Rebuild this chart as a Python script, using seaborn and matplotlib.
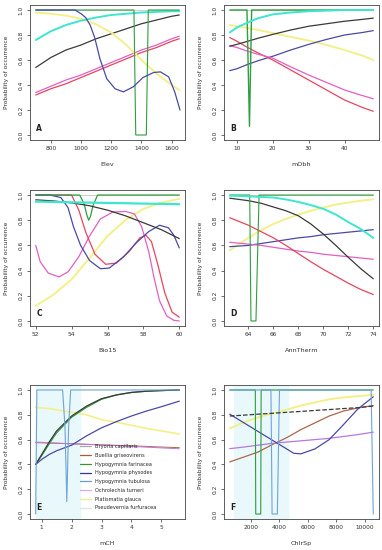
import matplotlib
matplotlib.use("Agg")
import matplotlib.pyplot as plt
import seaborn as sns
import numpy as np

sns.set_style("ticks")
plt.rcParams['font.family'] = ['DejaVu Sans']

# ---- colours seen in the panels
CYAN = '#3ee6cf'
DARK = '#3a3a3a'
YELLOW = '#f3f08a'
NAVY = '#4a4aa6'
RED = '#e8455e'
PINK = '#e35fc4'
GREEN = '#2f9e3e'
GREY = '#cfcfcf'
LBLUE = '#6fa3d8'
PURPLE = '#b978e0'
BROWN = '#b0664a'

# ---- Panel A : Elev
a_x = [700, 800, 900, 1000, 1100, 1200, 1300, 1400, 1500, 1600, 1650]
a_cyan = [0.76, 0.83, 0.88, 0.915, 0.94, 0.96, 0.97, 0.98, 0.985, 0.99, 0.99]
a_dark = [0.54, 0.62, 0.68, 0.72, 0.77, 0.81, 0.85, 0.89, 0.92, 0.95, 0.96]
a_yellow = [0.98, 0.97, 0.955, 0.93, 0.885, 0.82, 0.72, 0.60, 0.49, 0.40, 0.36]
a_red = [0.32, 0.37, 0.41, 0.46, 0.51, 0.56, 0.61, 0.66, 0.70, 0.75, 0.77]
a_pink = [0.34, 0.39, 0.44, 0.48, 0.53, 0.58, 0.63, 0.68, 0.72, 0.77, 0.79]
a_navy_x = [700, 900, 960, 1000, 1030, 1060, 1090, 1125, 1170, 1225, 1280,
            1345, 1410, 1480, 1525, 1580, 1620, 1655]
a_navy = [1.0, 1.0, 1.0, 0.97, 0.94, 0.88, 0.78, 0.61, 0.45, 0.37, 0.345,
          0.385, 0.46, 0.50, 0.505, 0.465, 0.345, 0.2]
a_green_x = [700, 1350, 1362, 1432, 1445, 1650]
a_green = [1, 1, 0, 0, 1, 1]

# ---- Panel B : mObh
b_x = [8, 10, 13, 16, 20, 25, 30, 35, 40, 45, 48]
b_cyan = [0.82, 0.86, 0.90, 0.935, 0.965, 0.98, 0.99, 0.995, 1.0, 1.0, 1.0]
b_dark = [0.71, 0.725, 0.75, 0.775, 0.805, 0.84, 0.87, 0.89, 0.91, 0.925, 0.935]
b_yellow = [0.88, 0.87, 0.855, 0.84, 0.815, 0.785, 0.755, 0.72, 0.68, 0.635, 0.60]
b_navy = [0.515, 0.53, 0.565, 0.595, 0.63, 0.68, 0.725, 0.765, 0.80, 0.82, 0.835]
b_red = [0.78, 0.75, 0.70, 0.655, 0.60, 0.52, 0.44, 0.36, 0.28, 0.22, 0.19]
b_pink = [0.715, 0.70, 0.67, 0.645, 0.615, 0.545, 0.48, 0.42, 0.36, 0.315, 0.29]
b_green_x = [8, 12.8, 13.5, 14.1, 48]
b_green = [1, 1, 0.07, 1, 1]

# ---- Panel C : Bio15
c_x = [52, 53, 54, 55, 56, 57, 58, 59, 60]
c_cyan = [0.948, 0.945, 0.942, 0.94, 0.937, 0.935, 0.932, 0.93, 0.927]
c_dark = [0.962, 0.953, 0.938, 0.915, 0.88, 0.835, 0.78, 0.725, 0.654]
c_yellow = [0.12, 0.21, 0.33, 0.50, 0.675, 0.80, 0.89, 0.94, 0.97]
c_navy_x = [52, 52.8, 53.4, 53.8, 54.1, 54.5, 55.0, 55.6, 56.1, 56.9, 57.6,
            58.3, 58.9, 59.4, 59.7, 60]
c_navy = [1.0, 1.0, 0.98, 0.90, 0.75, 0.60, 0.48, 0.415, 0.42, 0.51, 0.62,
          0.71, 0.76, 0.74, 0.68, 0.58]
c_red_x = [52, 53.5, 54.0, 54.4, 54.8, 55.3, 55.9, 56.5, 57.2, 57.8, 58.15,
           58.45, 58.8, 59.2, 59.6, 60]
c_red = [1.0, 1.0, 1.0, 0.88, 0.70, 0.53, 0.45, 0.46, 0.55, 0.66, 0.68,
         0.63, 0.45, 0.22, 0.07, 0.03]
c_pink_x = [52, 52.25, 52.7, 53.3, 53.8, 54.4, 55.0, 55.6, 56.3, 57.0, 57.5,
            57.9, 58.3, 58.6, 58.9, 59.3, 59.7, 60]
c_pink = [0.6, 0.47, 0.38, 0.35, 0.39, 0.51, 0.675, 0.81, 0.865, 0.87, 0.85,
          0.75, 0.55, 0.34, 0.16, 0.04, 0.005, 0.0]
c_green_x = [52, 54.45, 54.7, 54.85, 54.95, 55.05, 55.2, 55.45, 60]
c_green = [1, 1, 0.93, 0.84, 0.80, 0.83, 0.92, 1, 1]

# ---- Panel D : AnnTherm
d_x = [62.5, 64, 65, 66, 67, 68, 69, 70, 71, 72, 73, 74]
d_cyan = [0.995, 0.99, 0.985, 0.98, 0.965, 0.945, 0.92, 0.89, 0.845, 0.785, 0.73, 0.66]
d_dark = [0.975, 0.955, 0.935, 0.905, 0.875, 0.835, 0.77, 0.69, 0.60, 0.505, 0.415, 0.335]
d_yellow = [0.56, 0.66, 0.72, 0.77, 0.81, 0.845, 0.875, 0.90, 0.925, 0.94, 0.955, 0.965]
d_navy = [0.59, 0.60, 0.615, 0.63, 0.645, 0.66, 0.67, 0.685, 0.695, 0.705, 0.715, 0.725]
d_pink = [0.625, 0.61, 0.60, 0.585, 0.57, 0.555, 0.545, 0.53, 0.52, 0.51, 0.50, 0.49]
d_red = [0.82, 0.76, 0.71, 0.66, 0.60, 0.535, 0.47, 0.41, 0.355, 0.30, 0.25, 0.21]
d_green_x = [62.5, 64.1, 64.2, 64.6, 64.85, 74]
d_green = [1, 1, 0, 0, 1, 1]

# ---- Panel E : mCH
e_x = [0.8, 1.0, 1.25, 1.5, 2.0, 2.5, 3.0, 3.5, 4.0, 4.5, 5.0, 5.6]
e_dark = [0.40, 0.48, 0.58, 0.67, 0.79, 0.87, 0.93, 0.96, 0.98, 0.99, 0.995, 1.0]
e_green = [0.40, 0.47, 0.565, 0.655, 0.78, 0.86, 0.925, 0.96, 0.98, 0.99, 0.995, 1.0]
e_yellow = [0.86, 0.855, 0.85, 0.84, 0.82, 0.80, 0.76, 0.74, 0.715, 0.69, 0.67, 0.645]
e_navy = [0.40, 0.44, 0.48, 0.51, 0.555, 0.63, 0.695, 0.745, 0.79, 0.83, 0.865, 0.91]
e_purple = [0.58, 0.578, 0.575, 0.572, 0.567, 0.562, 0.556, 0.551, 0.545, 0.539, 0.533, 0.526]
e_brown = [0.575, 0.574, 0.572, 0.57, 0.566, 0.562, 0.558, 0.554, 0.55, 0.545, 0.54, 0.535]
e_blue_x = [0.8, 0.84, 1.7, 1.78, 1.84, 1.9, 1.97, 5.6]
e_blue = [0.0, 1.0, 1.0, 0.7, 0.1, 0.7, 1.0, 1.0]
e_shade = (0.81, 2.27)

# ---- Panel F : ChlrSp
f_x = [500, 1500, 2500, 3500, 4500, 5500, 6500, 7500, 8500, 9500, 10600]
f_yellow = [0.69, 0.74, 0.78, 0.81, 0.84, 0.875, 0.90, 0.925, 0.94, 0.95, 0.96]
f_dark = [0.79, 0.797, 0.805, 0.812, 0.82, 0.827, 0.835, 0.842, 0.85, 0.857, 0.87]
f_brown = [0.42, 0.46, 0.50, 0.56, 0.615, 0.68, 0.735, 0.79, 0.83, 0.855, 0.875]
f_purple = [0.527, 0.54, 0.555, 0.57, 0.58, 0.59, 0.60, 0.61, 0.625, 0.64, 0.66]
f_navy_x = [500, 1500, 2500, 3500, 4500, 5000, 5500, 6500, 7500, 8500, 9500, 10600]
f_navy = [0.805, 0.735, 0.665, 0.595, 0.525, 0.49, 0.485, 0.525, 0.60, 0.72, 0.845, 0.945]
f_green_x = [500, 2300, 2330, 2680, 2710, 10600]
f_green = [1, 1, 0, 0, 1, 1]
f_blue_x = [500, 3400, 3480, 3850, 4000, 10450, 10600]
f_blue = [1, 1, 0, 0, 1, 1, 0]
f_shade = (825, 4590)

legend_names = ['Bryoria capillaris', 'Buellia griseovirens', 'Hypogymnia farinacea',
                'Hypogymnia physodes', 'Hypogymnia tubulosa', 'Ochrolechia turneri',
                'Platismatia glauca', 'Pseudevernia furfuracea']
legend_colors = ['#a8a8a8', '#a55a3c', '#3d8f3d', '#34349a', '#6c9bd2',
                 '#d9a9e8', '#e9ee92', '#d6e6ea']


def curve(ax, x, y, color, lw=0.9, ls='-'):
    sns.lineplot(x=x, y=y, ax=ax, color=color, lw=lw, ls=ls,
                 sort=False, estimator=None)


def style(ax, xlabel, letter, xticks, xlim):
    ax.set_xlim(*xlim)
    ax.set_ylim(-0.04, 1.04)
    ax.set_xticks(xticks)
    ax.set_yticks([0, 0.2, 0.4, 0.6, 0.8, 1.0])
    ax.set_yticklabels(['0.0', '0.2', '0.4', '0.6', '0.8', '1.0'],
                       rotation=90, va='center')
    ax.tick_params(labelsize=4.2, length=2.5, width=0.5, pad=2, colors='#333333')
    for s in ax.spines.values():
        s.set_visible(True)
        s.set_linewidth(0.6)
        s.set_color('#444444')
    ax.set_xlabel(xlabel, fontsize=4.6, labelpad=8, color='#333333')
    ax.set_ylabel('Probability of occurrence', fontsize=4.2, labelpad=7,
                  color='#333333')
    ax.text(0.04, 0.07, letter, transform=ax.transAxes, fontsize=5.5,
            fontweight='bold', color='#222222')


fig = plt.figure(figsize=(3.82, 5.5), dpi=100)
W, H = 382, 550


def panel(left, top, right, bottom):
    return fig.add_axes([left / W, 1 - bottom / H, (right - left) / W, (bottom - top) / H])


rows = [(5, 140), (190, 326), (385, 519)]
cols = [(30, 185), (224, 379)]

# A
ax = panel(cols[0][0], rows[0][0], cols[0][1], rows[0][1])
curve(ax, a_x, [1.0] * len(a_x), GREY, 0.8)
curve(ax, a_x, a_red, RED)
curve(ax, a_x, a_pink, PINK)
curve(ax, a_x, a_dark, DARK)
curve(ax, a_x, a_yellow, YELLOW, 1.4)
curve(ax, a_x, a_cyan, CYAN, 1.4)
curve(ax, a_green_x, a_green, GREEN, 0.8)
curve(ax, a_navy_x, a_navy, NAVY)
style(ax, 'Elev', 'A', [800, 1000, 1200, 1400, 1600], (662, 1688))

# B
ax = panel(cols[1][0], rows[0][0], cols[1][1], rows[0][1])
curve(ax, b_x, [1.0] * len(b_x), GREY, 0.8)
curve(ax, b_x, b_yellow, YELLOW, 1.4)
curve(ax, b_x, b_navy, NAVY)
curve(ax, b_x, b_red, RED)
curve(ax, b_x, b_pink, PINK)
curve(ax, b_x, b_dark, DARK)
curve(ax, b_green_x, b_green, GREEN, 1.0)
curve(ax, b_x, b_cyan, CYAN, 1.4)
style(ax, 'mObh', 'B', [10, 20, 30, 40], (6.4, 49.6))

# C
ax = panel(cols[0][0], rows[1][0], cols[0][1], rows[1][1])
curve(ax, c_x, [1.0] * len(c_x), GREY, 0.8)
curve(ax, c_x, c_yellow, YELLOW, 1.4)
curve(ax, c_pink_x, c_pink, PINK)
curve(ax, c_red_x, c_red, RED)
curve(ax, c_navy_x, c_navy, NAVY)
curve(ax, c_green_x, c_green, GREEN)
curve(ax, c_x, c_dark, DARK)
curve(ax, c_x, c_cyan, CYAN, 1.6)
style(ax, 'Bio15', 'C', [52, 54, 56, 58, 60], (51.68, 60.32))

# D
ax = panel(cols[1][0], rows[1][0], cols[1][1], rows[1][1])
curve(ax, d_x, [1.0] * len(d_x), GREY, 0.8)
curve(ax, d_x, d_yellow, YELLOW, 1.4)
curve(ax, d_x, d_navy, NAVY)
curve(ax, d_x, d_pink, PINK)
curve(ax, d_x, d_red, RED)
curve(ax, d_x, d_dark, DARK)
curve(ax, d_green_x, d_green, GREEN, 0.8)
curve(ax, d_x, d_cyan, CYAN, 1.4)
style(ax, 'AnnTherm', 'D', [64, 66, 68, 70, 72, 74], (62.04, 74.46))

# E
ax = panel(cols[0][0], rows[2][0], cols[0][1], rows[2][1])
ax.axvspan(*e_shade, color='#e9f8fb', zorder=0)
curve(ax, e_x, e_yellow, YELLOW, 1.2)
curve(ax, e_x, e_brown, BROWN, 0.7)
curve(ax, e_x, e_purple, PURPLE, 0.7)
curve(ax, e_x, e_green, GREEN)
curve(ax, e_x, e_dark, DARK)
curve(ax, e_x, e_navy, NAVY)
curve(ax, e_blue_x, e_blue, LBLUE, 0.8)
style(ax, 'mCH', 'E', [1, 2, 3, 4, 5], (0.61, 5.79))
handles = [plt.Line2D([], [], color=c, lw=0.9) for c in legend_colors]
ax.legend(handles, legend_names, loc='lower right', bbox_to_anchor=(0.83, 0.05),
          frameon=False, fontsize=3.6, handlelength=2.2, labelspacing=0.75,
          handletextpad=0.9, borderaxespad=0)

# F
ax = panel(cols[1][0], rows[2][0], cols[1][1], rows[2][1])
ax.axvspan(*f_shade, color='#e9f8fb', zorder=0)
curve(ax, f_x, [1.0] * len(f_x), '#e4eeee', 0.8)
curve(ax, f_x, f_yellow, YELLOW, 1.4)
curve(ax, f_x, f_brown, BROWN)
curve(ax, f_x, f_purple, PURPLE)
curve(ax, f_navy_x, f_navy, NAVY)
curve(ax, f_green_x, f_green, GREEN, 0.8)
curve(ax, f_blue_x, f_blue, LBLUE, 0.8)
curve(ax, f_x, f_dark, DARK, 0.9, '--')
style(ax, 'ChlrSp', 'F', [2000, 4000, 6000, 8000, 10000], (96, 11004))

fig.savefig('out.png', dpi=100)
